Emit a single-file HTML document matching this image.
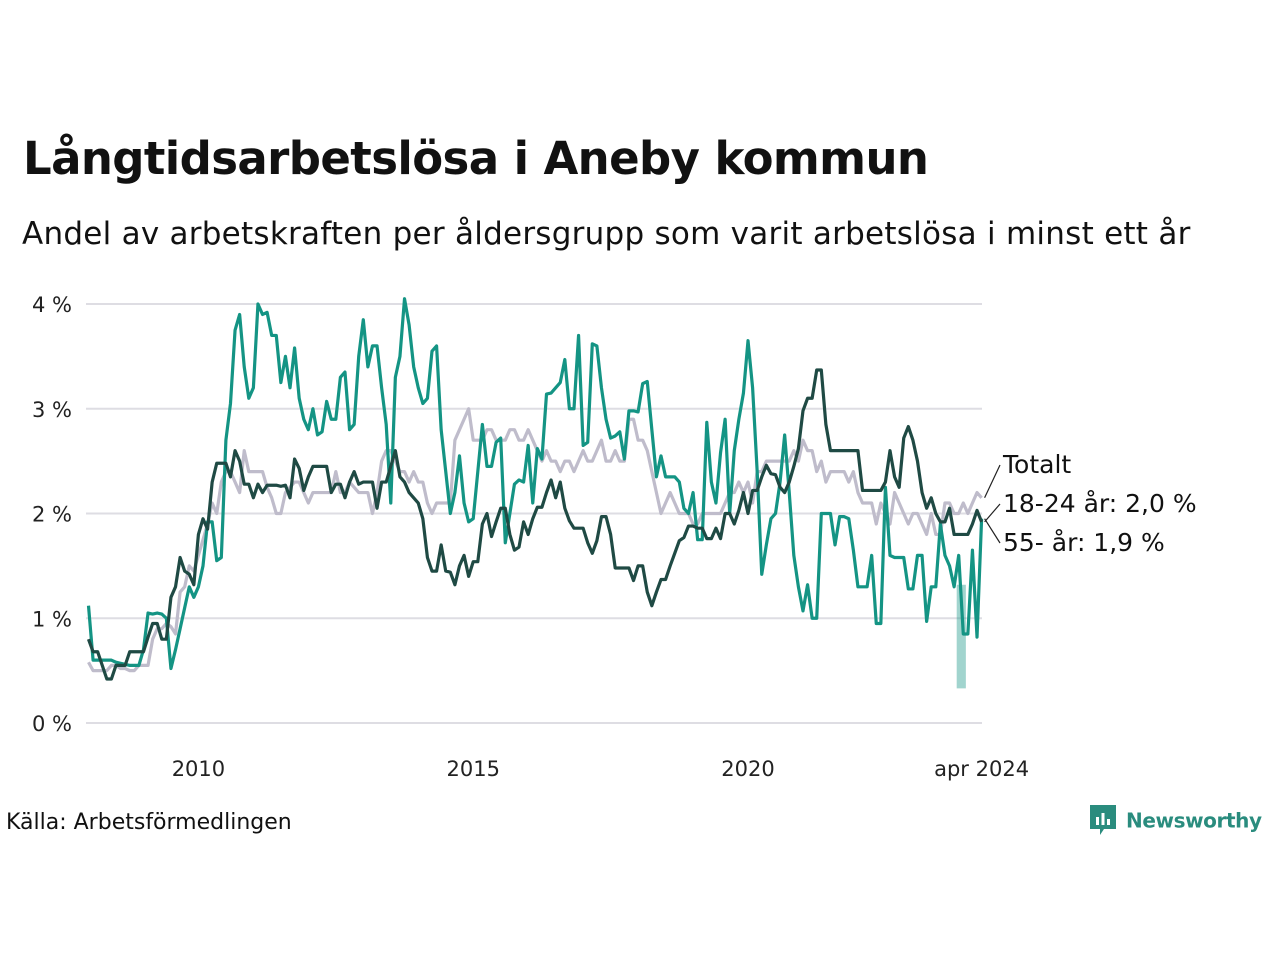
<!DOCTYPE html>
<html><head><meta charset="utf-8">
<style>
body{margin:0;background:#fff;width:1280px;height:960px;overflow:hidden;font-family:"Liberation Sans","DejaVu Sans",sans-serif;color:#111}
#title{position:absolute;left:23px;top:132px;font-size:45px;font-weight:bold;font-family:"DejaVu Sans","Liberation Sans",sans-serif;letter-spacing:-0.6px}
#sub{position:absolute;left:22px;top:216px;font-size:31px;font-family:"DejaVu Sans","Liberation Sans",sans-serif;letter-spacing:0.25px}
#src{position:absolute;left:6px;top:810px;font-size:22px;font-family:"DejaVu Sans",sans-serif}
#logo{position:absolute;left:1088px;top:804px;white-space:nowrap;font-size:20px;font-weight:bold;color:#2a8c7e;font-family:"DejaVu Sans",sans-serif;letter-spacing:-0.4px}
svg{position:absolute;left:0;top:0}
</style></head><body>
<div id="title">Långtidsarbetslösa i Aneby kommun</div>
<div id="sub">Andel av arbetskraften per åldersgrupp som varit arbetslösa i minst ett år</div>
<div id="src">Källa: Arbetsförmedlingen</div>
<div id="logo"><svg width="30" height="36" viewBox="0 0 30 34" style="position:relative;vertical-align:middle;margin-right:8px;top:-2px"><path d="M2 2h26v24H16l-4 6v-6H2z" fill="#2a8c7e"/><rect x="8" y="14" width="3" height="8" fill="#fff"/><rect x="13.5" y="10" width="3" height="12" fill="#fff"/><rect x="19" y="16" width="3" height="6" fill="#fff"/></svg>Newsworthy</div>
<svg id="chart" width="1280" height="960" font-family="DejaVu Sans, Liberation Sans, sans-serif"></svg>
<script>
const startYear=2008;
const yTicks=[0,1,2,3,4];
const yTickLabels=["0 %","1 %","2 %","3 %","4 %"];
const xTickYears=[2010,2015,2020];
const seriesTotal=[0.58,0.5,0.5,0.5,0.5,0.55,0.55,0.52,0.52,0.5,0.5,0.55,
0.55,0.55,0.8,0.9,0.9,0.95,0.92,0.85,1.25,1.3,1.5,1.45,
1.6,1.75,1.9,2.1,2.0,2.3,2.4,2.4,2.3,2.2,2.6,2.4,
2.4,2.4,2.4,2.25,2.15,2.0,2.0,2.2,2.25,2.3,2.3,2.2,
2.1,2.2,2.2,2.2,2.2,2.2,2.4,2.2,2.2,2.3,2.25,2.2,
2.2,2.2,2.0,2.2,2.5,2.6,2.6,2.5,2.4,2.4,2.3,2.4,
2.3,2.3,2.1,2.0,2.1,2.1,2.1,2.1,2.7,2.8,2.9,3.0,
2.7,2.7,2.7,2.8,2.8,2.7,2.7,2.7,2.8,2.8,2.7,2.7,
2.8,2.7,2.6,2.5,2.6,2.5,2.5,2.4,2.5,2.5,2.4,2.5,
2.6,2.5,2.5,2.6,2.7,2.5,2.5,2.6,2.5,2.5,2.9,2.9,
2.7,2.7,2.6,2.4,2.2,2.0,2.1,2.2,2.1,2.0,2.0,2.0,
1.9,1.9,2.0,2.0,2.0,2.0,2.0,2.1,2.2,2.2,2.3,2.2,
2.3,2.1,2.4,2.4,2.5,2.5,2.5,2.5,2.5,2.5,2.6,2.5,
2.7,2.6,2.6,2.4,2.5,2.3,2.4,2.4,2.4,2.4,2.3,2.4,
2.2,2.1,2.1,2.1,1.9,2.1,2.0,1.9,2.2,2.1,2.0,1.9,
2.0,2.0,1.9,1.8,2.0,1.8,1.8,2.1,2.1,2.0,2.0,2.1,
2.0,2.1,2.2,2.15];
const seriesYoung=[0.8,0.68,0.68,0.55,0.42,0.42,0.55,0.55,0.55,0.68,0.68,0.68,
0.68,0.82,0.95,0.95,0.8,0.8,1.2,1.3,1.58,1.45,1.42,1.32,
1.8,1.95,1.85,2.3,2.48,2.48,2.48,2.35,2.6,2.5,2.28,2.28,
2.15,2.28,2.2,2.27,2.27,2.27,2.26,2.27,2.15,2.52,2.43,2.22,
2.35,2.45,2.45,2.45,2.45,2.2,2.28,2.28,2.15,2.3,2.4,2.28,
2.3,2.3,2.3,2.05,2.3,2.3,2.45,2.6,2.35,2.3,2.2,2.15,
2.1,1.95,1.58,1.45,1.45,1.7,1.45,1.44,1.32,1.5,1.6,1.4,
1.54,1.54,1.9,2.0,1.78,1.92,2.05,2.05,1.8,1.65,1.68,1.92,
1.8,1.95,2.06,2.06,2.2,2.32,2.15,2.3,2.05,1.93,1.86,1.86,
1.86,1.72,1.62,1.74,1.97,1.97,1.8,1.48,1.48,1.48,1.48,1.36,
1.5,1.5,1.25,1.12,1.25,1.37,1.37,1.5,1.62,1.74,1.77,1.88,
1.88,1.86,1.86,1.76,1.76,1.86,1.76,2.0,2.0,1.9,2.03,2.2,
2.0,2.22,2.22,2.35,2.46,2.38,2.37,2.25,2.2,2.3,2.45,2.62,
2.98,3.1,3.1,3.37,3.37,2.85,2.6,2.6,2.6,2.6,2.6,2.6,
2.6,2.22,2.22,2.22,2.22,2.22,2.3,2.6,2.35,2.25,2.72,2.83,
2.7,2.5,2.2,2.05,2.15,2.0,1.92,1.92,2.05,1.8,1.8,1.8,
1.8,1.9,2.03,1.92];
const seriesOld=[1.12,0.6,0.6,0.6,0.6,0.6,0.58,0.57,0.56,0.55,0.55,0.55,
0.7,1.05,1.04,1.05,1.04,1.0,0.52,0.7,0.9,1.1,1.3,1.2,
1.3,1.5,1.92,1.92,1.55,1.58,2.7,3.05,3.75,3.9,3.4,3.1,
3.2,4.0,3.9,3.92,3.7,3.7,3.25,3.5,3.2,3.58,3.1,2.9,
2.8,3.0,2.75,2.78,3.07,2.9,2.9,3.3,3.35,2.8,2.85,3.5,
3.85,3.4,3.6,3.6,3.2,2.85,2.1,3.3,3.5,4.05,3.8,3.4,
3.2,3.05,3.1,3.55,3.6,2.8,2.4,2.0,2.2,2.55,2.1,1.92,
1.95,2.4,2.85,2.45,2.45,2.68,2.72,1.72,2.0,2.28,2.32,2.3,
2.65,2.1,2.62,2.52,3.14,3.15,3.2,3.25,3.47,3.0,3.0,3.7,
2.65,2.68,3.62,3.6,3.2,2.9,2.72,2.74,2.78,2.52,2.98,2.98,
2.97,3.24,3.26,2.8,2.35,2.55,2.35,2.35,2.35,2.3,2.05,2.0,
2.2,1.75,1.75,2.87,2.3,2.1,2.58,2.9,2.0,2.6,2.9,3.15,
3.65,3.2,2.4,1.42,1.7,1.95,2.0,2.3,2.75,2.2,1.6,1.3,
1.07,1.32,1.0,1.0,2.0,2.0,2.0,1.7,1.97,1.97,1.95,1.65,
1.3,1.3,1.3,1.6,0.95,0.95,2.25,1.6,1.58,1.58,1.58,1.28,
1.28,1.6,1.6,0.97,1.3,1.3,1.9,1.6,1.5,1.3,1.6,0.85,
0.85,1.65,0.82,1.95];
const bandIdx=[190,191,192];
const bandLow=[0.33,0.33,0.33];
const bandHigh=[1.32,1.32,1.32];

const NS='http://www.w3.org/2000/svg';
const svg=document.getElementById('chart');
const x0=88.5,x1=981.6,n=seriesTotal.length;
const X=i=>x0+(x1-x0)*i/(n-1);
const XY=y=>x0+(x1-x0)*((y-startYear)*12)/(n-1);
const Y=v=>723-104.75*v;
function mk(t,a){const e=document.createElementNS(NS,t);for(const k in a)e.setAttribute(k,a[k]);svg.appendChild(e);return e;}
yTicks.forEach((t,i)=>{
 const g=mk('line',{x1:86,x2:982,y1:Y(t),y2:Y(t),stroke:'#dedde3','stroke-width':2});
 
 
 const l=mk('text',{x:72,y:Y(t)+8,'text-anchor':'end','font-size':21,fill:'#222'});l.textContent=yTickLabels[i];
 
 
});
xTickYears.forEach(yr=>{
 const l=mk('text',{x:XY(yr),y:776,'text-anchor':'middle','font-size':21,fill:'#222'});l.textContent=yr;
 
 
});
const lx=mk('text',{x:X(n-1),y:776,'text-anchor':'middle','font-size':21,fill:'#222'});lx.textContent='apr 2024';


let pts=bandIdx.map((k,j)=>(X(k)-2)+','+Y(bandHigh[j])).concat(bandIdx.slice().reverse().map((k,j)=>(X(k)-2)+','+Y(bandLow[bandLow.length-1-j])));
const band=mk('polygon',{points:pts.join(' '),fill:'#149484',opacity:0.4});


function line(arr,col,name){const p=mk('polyline',{points:arr.map((v,i)=>X(i)+','+Y(v)).join(' '),fill:'none',stroke:col,'stroke-width':3.2,'stroke-linejoin':'round'});
 
 }
line(seriesTotal,'#bfbccb','line-totalt');
line(seriesOld,'#149484','line-55-ar');
line(seriesYoung,'#1f4a44','line-18-24-ar');
const labs=[['Totalt',seriesTotal,473],['18-24 år: 2,0 %',seriesYoung,512],['55- år: 1,9 %',seriesOld,551]];
labs.forEach(([t,arr,ly])=>{
 const ex=X(n-1)+3,ey=Y(arr[n-1]);
 const ln=mk('line',{x1:ex,y1:ey,x2:1000,y2:ly-8,stroke:'#222','stroke-width':1.2});
 
 
 const tx=mk('text',{x:1003,y:ly,'font-size':25,fill:'#111'});tx.textContent=t;
 
 
});
</script>
</body></html>
